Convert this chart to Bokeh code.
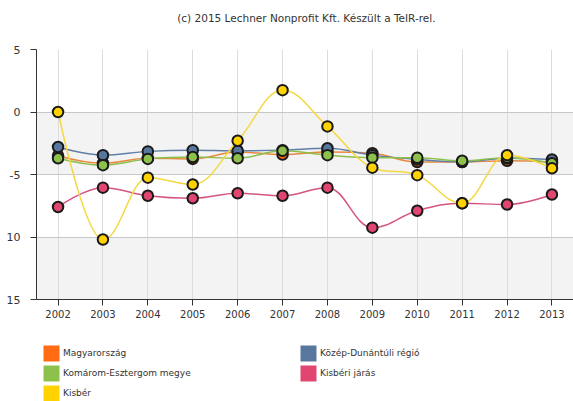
from bokeh.plotting import figure
from bokeh.layouts import column
from bokeh.models import FixedTicker, BoxAnnotation, Legend, LegendItem
from bokeh.core.properties import value
from bokeh.embed import file_html
from bokeh.resources import INLINE

years = [2002, 2003, 2004, 2005, 2006, 2007, 2008, 2009, 2010, 2011, 2012, 2013]
magyarorszag = [-3.5, -4.1, -3.7, -3.75, -3.2, -3.4, -3.2, -3.3, -4.0, -4.0, -3.9, -4.0]
kozep_dunantul = [-2.8, -3.45, -3.15, -3.05, -3.1, -3.05, -2.9, -3.45, -3.8, -4.0, -3.7, -3.8]
komarom = [-3.7, -4.25, -3.75, -3.6, -3.7, -3.1, -3.45, -3.65, -3.65, -3.9, -3.65, -4.1]
kisberi_jaras = [-7.6, -6.05, -6.7, -6.9, -6.5, -6.7, -6.05, -9.25, -7.9, -7.3, -7.4, -6.6]
kisber = [0.0, -10.2, -5.25, -5.8, -2.3, 1.75, -1.15, -4.45, -5.05, -7.3, -3.45, -4.5]

y_ticks = [-15, -10, -5, 0, 5]
y_labels = {-15: "15", -10: "10", -5: "-5", 0: "0", 5: "5"}
title_text = "(c) 2015 Lechner Nonprofit Kft. Készült a TeIR-rel."

series = [
    ("Magyarország", magyarorszag, "#ff6a13", "#e8893f"),
    ("Közép-Dunántúli régió", kozep_dunantul, "#58779f", "#5f7fa6"),
    ("Komárom-Esztergom megye", komarom, "#8dc14c", "#8cbf4b"),
    ("Kisbéri járás", kisberi_jaras, "#e0466f", "#d4557f"),
    ("Kisbér", kisber, "#ffd200", "#f5d840"),
]
legend_order = [0, 2, 4, 1, 3]


def spline(xs, ys, smoothing=1.5):
    n = len(xs)
    denom = smoothing + 1
    lc = [None] * n
    rc = [None] * n
    for i in range(1, n - 1):
        px, py = xs[i], ys[i]
        lx, ly = xs[i - 1], ys[i - 1]
        nx, ny = xs[i + 1], ys[i + 1]
        lcx = (smoothing * px + lx) / denom
        lcy = (smoothing * py + ly) / denom
        rcx = (smoothing * px + nx) / denom
        rcy = (smoothing * py + ny) / denom
        if rcx != lcx:
            corr = (rcy - lcy) * (rcx - px) / (rcx - lcx) + py - rcy
            lcy += corr
            rcy += corr
        if lcy > ly and lcy > py:
            lcy = max(ly, py)
            rcy = 2 * py - lcy
        elif lcy < ly and lcy < py:
            lcy = min(ly, py)
            rcy = 2 * py - lcy
        if rcy > ny and rcy > py:
            rcy = max(ny, py)
            lcy = 2 * py - rcy
        elif rcy < ny and rcy < py:
            rcy = min(ny, py)
            lcy = 2 * py - rcy
        lc[i] = (lcx, lcy)
        rc[i] = (rcx, rcy)
    seg = dict(x0=[], y0=[], x1=[], y1=[], cx0=[], cy0=[], cx1=[], cy1=[])
    for i in range(1, n):
        c0 = rc[i - 1] if rc[i - 1] else (xs[i - 1], ys[i - 1])
        c1 = lc[i] if lc[i] else (xs[i], ys[i])
        seg["x0"].append(xs[i - 1]); seg["y0"].append(ys[i - 1])
        seg["x1"].append(xs[i]); seg["y1"].append(ys[i])
        seg["cx0"].append(c0[0]); seg["cy0"].append(c0[1])
        seg["cx1"].append(c1[0]); seg["cy1"].append(c1[1])
    return seg


def blank(fig):
    fig.outline_line_color = None
    fig.xgrid.visible = False
    fig.ygrid.visible = False


# title strip
tf = figure(width=573, height=30, x_range=(0, 573), y_range=(30, 0), output_backend="svg",
            toolbar_location=None, x_axis_type=None, y_axis_type=None,
            min_border_left=0, min_border_right=0, min_border_top=0, min_border_bottom=0)
blank(tf)
tf.text(x=[288], y=[17], text=[title_text], text_align="center", text_baseline="middle",
        text_font=value("DejaVu Sans"), text_font_size="10.5px", text_color="#333333")

# main chart
p = figure(width=573, height=295, x_range=(2001.52, 2013.48), y_range=(-15, 5),
           output_backend="svg", toolbar_location=None,
           min_border_left=36, min_border_right=0, min_border_top=19, min_border_bottom=26)
p.outline_line_color = None
p.background_fill_color = "white"

for b, t in [(-5, 0), (-15, -10)]:
    p.add_layout(BoxAnnotation(bottom=b, top=t, fill_color="#f3f3f3", fill_alpha=1,
                               line_color=None, level="image"))

p.xaxis.ticker = FixedTicker(ticks=years)
p.yaxis.ticker = FixedTicker(ticks=y_ticks)
p.yaxis.major_label_overrides = y_labels
p.xgrid.ticker = FixedTicker(ticks=years)
p.ygrid.ticker = FixedTicker(ticks=y_ticks)
p.xgrid.grid_line_color = "#dcdcdc"
p.ygrid.grid_line_color = "#c8c8c8"

for ax in (p.xaxis, p.yaxis):
    ax.major_tick_in = 0
    ax.major_tick_out = 6
    ax.minor_tick_out = 0
    ax.minor_tick_in = 0
    ax.axis_line_color = "#333333"
    ax.major_tick_line_color = "#333333"
    ax.major_label_text_color = "#333333"
    ax.major_label_text_font = "DejaVu Sans"
p.xaxis.major_label_text_font_size = "10px"
p.xaxis.major_label_standoff = 4
p.yaxis.major_label_text_font_size = "11px"
p.yaxis.major_label_standoff = 10

for name, vals, lcol, linecol in series:
    seg = spline(years, vals)
    p.bezier(source=seg, x0="x0", y0="y0", x1="x1", y1="y1", cx0="cx0", cy0="cy0",
             cx1="cx1", cy1="cy1", line_color=linecol, line_width=1.5)
    p.scatter(years, vals, size=10.5, fill_color=lcol, line_color="#1a1a1a", line_width=2)

# legend strip
lf = figure(width=573, height=76, x_range=(0, 1), y_range=(0, 1), output_backend="svg",
            toolbar_location=None, x_axis_type=None, y_axis_type=None,
            min_border_left=0, min_border_right=0, min_border_top=0, min_border_bottom=0)
blank(lf)

items = []
for idx in legend_order:
    name, vals, lcol, linecol = series[idx]
    r = lf.quad(left=[float("nan")], right=[float("nan")], top=[float("nan")],
                bottom=[float("nan")], fill_color=lcol, line_color=None)
    items.append(LegendItem(label=name, renderers=[r]))

legend = Legend(items=items, location=(5, -2), orientation="vertical", nrows=3,
                glyph_width=20, glyph_height=20, label_standoff=2, spacing=0,
                padding=5, margin=0, border_line_color=None, background_fill_alpha=0,
                label_text_font_size="9px", label_text_font="DejaVu Sans",
                label_text_color="#333333", label_width=235, label_height=20)
lf.add_layout(legend)

layout = column(tf, p, lf, spacing=0)
open("out.html", "w").write(file_html(layout, INLINE))
